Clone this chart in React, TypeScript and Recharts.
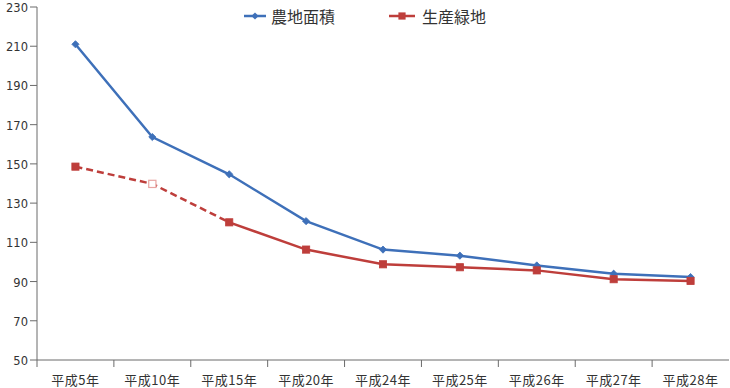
import React from 'react';
import { LineChart, Line, XAxis, YAxis } from 'recharts';

const categories = ['平成5年', '平成10年', '平成15年', '平成20年', '平成24年', '平成25年', '平成26年', '平成27年', '平成28年'];
const farmland = [211.0, 163.7, 144.7, 120.8, 106.3, 103.2, 98.2, 94.0, 92.3];
const greenland = [148.6, 139.8, 120.2, 106.3, 98.8, 97.3, 95.7, 91.2, 90.3];
const yTicks = [50, 70, 90, 110, 130, 150, 170, 190, 210, 230];
const seriesNames = ['農地面積', '生産緑地'];
const dashedEndIndex = 2;
const hollowIndexes = [1];

const W = 730;
const H = 388;
const MARGIN = { top: 7, right: 1, bottom: 0, left: 0 };
const Y_W = 37;
const X_H = 28;
const BAND = (W - MARGIN.left - MARGIN.right - Y_W) / categories.length;

const BLUE = '#3E70B9';
const RED = '#BE3E3B';
const AXIS = '#6b6b6b';
const FONT = '"Noto Sans CJK JP", "Noto Sans", sans-serif';
const NUM_FONT = '"DejaVu Sans", "Noto Sans", sans-serif';

const data = categories.map((c, i) => ({
  cat: c,
  farm: farmland[i],
  greenDashed: i <= dashedEndIndex ? greenland[i] : null,
  greenSolid: i >= dashedEndIndex ? greenland[i] : null,
}));

const Diamond = (props: any) => {
  const { cx, cy, value, index } = props;
  if (value == null || cx == null) return <g key={`d${index}`} />;
  const r = 3.6;
  return (
    <path
      key={`d${index}`}
      d={`M${cx},${cy - r}L${cx + r},${cy}L${cx},${cy + r}L${cx - r},${cy}Z`}
      fill={BLUE}
      stroke={BLUE}
      strokeWidth={0.8}
    />
  );
};

const makeSquare = (skipIndex: number | null) => (props: any) => {
  const { cx, cy, value, index } = props;
  if (value == null || cx == null || index === skipIndex) return <g key={`s${index}`} />;
  const s = 3.6;
  const hollow = hollowIndexes.includes(index);
  return (
    <rect
      key={`s${index}`}
      x={cx - s}
      y={cy - s}
      width={s * 2}
      height={s * 2}
      fill={hollow ? '#ffffff' : RED}
      stroke={hollow ? '#e8a5a3' : RED}
      strokeWidth={hollow ? 1.2 : 0.8}
    />
  );
};

const XTick = (props: any) => {
  const { x, y, payload } = props;
  const left = x - BAND / 2;
  return (
    <g>
      <line x1={left} y1={y} x2={left} y2={y + 7} stroke={AXIS} strokeWidth={1} />
      <text
        x={x}
        y={y + 19.5}
        textAnchor="middle"
        dominantBaseline="central"
        fontSize={13}
        letterSpacing={0.5}
        fill="#333"
        fontFamily={FONT}
      >
        {payload.value}
      </text>
    </g>
  );
};

const YTick = (props: any) => {
  const { x, y, payload } = props;
  return (
    <text
      x={x}
      y={y + 1}
      textAnchor="end"
      dominantBaseline="central"
      fontSize={11.5}
      fill="#333"
      fontFamily={NUM_FONT}
    >
      {payload.value}
    </text>
  );
};

const LegendOverlay = () => (
  <div
    style={{
      position: 'absolute',
      top: 6,
      left: 0,
      width: W,
      display: 'flex',
      justifyContent: 'center',
      alignItems: 'center',
      fontFamily: FONT,
      fontSize: 16,
      color: '#333',
      lineHeight: '20px',
      pointerEvents: 'none',
    }}
  >
    <div style={{ display: 'flex', alignItems: 'center' }}>
      <svg width={22} height={10} style={{ marginRight: 5 }}>
        <line x1={0} y1={5} x2={22} y2={5} stroke={BLUE} strokeWidth={2.5} />
        <path d="M11,1.4L14.6,5L11,8.6L7.4,5Z" fill={BLUE} />
      </svg>
      <span>{seriesNames[0]}</span>
    </div>
    <div style={{ display: 'flex', alignItems: 'center', marginLeft: 54 }}>
      <svg width={26} height={10} style={{ marginRight: 7 }}>
        <line x1={0} y1={5} x2={26} y2={5} stroke={RED} strokeWidth={2.5} />
        <rect x={9.4} y={1.4} width={7.2} height={7.2} fill={RED} />
      </svg>
      <span>{seriesNames[1]}</span>
    </div>
  </div>
);

export default function App() {
  return (
    <div style={{ position: 'absolute', left: 0, top: 0, width: W, height: H, background: '#fff' }}>
      <LineChart width={W} height={H} data={data} margin={MARGIN}>
        <XAxis
          dataKey="cat"
          scale="band"
          height={X_H}
          tickLine={false}
          tickSize={0}
          tickMargin={0}
          axisLine={{ stroke: AXIS, strokeWidth: 1 }}
          tick={<XTick />}
          interval={0}
        />
        <YAxis
          width={Y_W}
          domain={[50, 230]}
          ticks={yTicks}
          interval={0}
          tickSize={7}
          tickMargin={2}
          axisLine={{ stroke: AXIS, strokeWidth: 1 }}
          tickLine={{ stroke: AXIS, strokeWidth: 1 }}
          tick={<YTick />}
        />
        <Line
          dataKey="farm"
          name={seriesNames[0]}
          stroke={BLUE}
          strokeWidth={2.5}
          dot={Diamond}
          activeDot={false}
          isAnimationActive={false}
        />
        <Line
          dataKey="greenDashed"
          name={seriesNames[1]}
          stroke={RED}
          strokeWidth={2.5}
          strokeDasharray="7 4"
          dot={makeSquare(dashedEndIndex)}
          activeDot={false}
          connectNulls={false}
          isAnimationActive={false}
        />
        <Line
          dataKey="greenSolid"
          name={seriesNames[1]}
          stroke={RED}
          strokeWidth={2.5}
          dot={makeSquare(null)}
          activeDot={false}
          connectNulls={false}
          isAnimationActive={false}
        />
      </LineChart>
      <LegendOverlay />
    </div>
  );
}
